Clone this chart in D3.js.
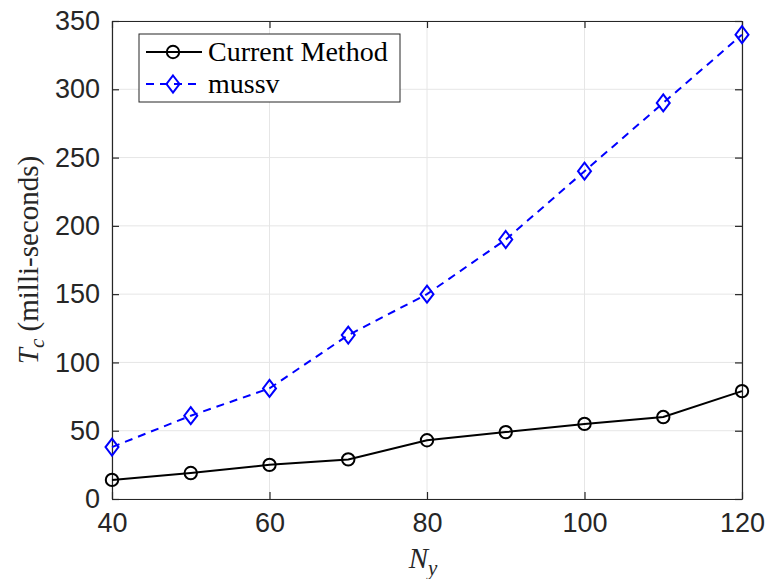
<!DOCTYPE html>
<html>
<head>
<meta charset="utf-8">
<script src="https://cdn.jsdelivr.net/npm/d3@7"></script>
<style>
  html, body { margin: 0; padding: 0; background: #fff; }
  svg { display: block; }
</style>
</head>
<body>
<div id="chart"></div>
<script>
const nyValues = [40, 50, 60, 70, 80, 90, 100, 110, 120];
const currentMethod = [14, 19, 25, 29, 43, 49, 55, 60, 79];
const mussv = [38, 61, 81, 120, 150, 190, 240, 290, 340];
const xTicks = [40, 60, 80, 100, 120];
const yTicks = [0, 50, 100, 150, 200, 250, 300, 350];

const W = 767, H = 579;
const margin = { top: 21, right: 25, bottom: 80, left: 112 };
const w = W - margin.left - margin.right;
const h = H - margin.top - margin.bottom;
const axisColor = '#262626';
const tickFont = "'Liberation Sans', Arial, sans-serif";
const serif = "'Liberation Serif', 'DejaVu Serif', serif";

const svg = d3.select('#chart').append('svg')
  .attr('width', W).attr('height', H);

const g = svg.append('g').attr('transform', `translate(${margin.left},${margin.top})`);

const x = d3.scaleLinear().domain([40, 120]).range([0, w]);
const y = d3.scaleLinear().domain([0, 350]).range([h, 0]);

// grid
g.append('g').selectAll('line').data(xTicks).enter().append('line')
  .attr('x1', d => x(d)).attr('x2', d => x(d)).attr('y1', 0).attr('y2', h)
  .attr('stroke', '#e6e6e6').attr('stroke-width', 1);
g.append('g').selectAll('line').data(yTicks).enter().append('line')
  .attr('x1', 0).attr('x2', w).attr('y1', d => y(d)).attr('y2', d => y(d))
  .attr('stroke', '#e6e6e6').attr('stroke-width', 1);

// axes (ticks inward, box on)
function styleAxis(sel) {
  sel.selectAll('path').attr('stroke', axisColor).attr('stroke-width', 1.2);
  sel.selectAll('line').attr('stroke', axisColor).attr('stroke-width', 1.2);
}
const xAxis = g.append('g').attr('transform', `translate(0,${h})`)
  .call(d3.axisBottom(x).tickValues(xTicks).tickSize(-7).tickSizeOuter(0).tickPadding(14));
styleAxis(xAxis);
xAxis.selectAll('text').attr('fill', axisColor).attr('font-family', tickFont).attr('font-size', '27px');

const yAxis = g.append('g')
  .call(d3.axisLeft(y).tickValues(yTicks).tickSize(-7).tickSizeOuter(0).tickPadding(12));
styleAxis(yAxis);
yAxis.selectAll('text').attr('fill', axisColor).attr('font-family', tickFont).attr('font-size', '27px');

const xTop = g.append('g')
  .call(d3.axisTop(x).tickValues(xTicks).tickSize(-7).tickSizeOuter(0).tickFormat(''));
styleAxis(xTop);
const yRight = g.append('g').attr('transform', `translate(${w},0)`)
  .call(d3.axisRight(y).tickValues(yTicks).tickSize(-7).tickSizeOuter(0).tickFormat(''));
styleAxis(yRight);

// axis labels
const xl = svg.append('text')
  .attr('x', margin.left + w / 2 - 4).attr('y', 568)
  .attr('text-anchor', 'middle').attr('font-family', serif).attr('font-size', '29px')
  .attr('fill', axisColor);
xl.append('tspan').attr('font-style', 'italic').text('N');
xl.append('tspan').attr('font-style', 'italic').attr('font-size', '21px').attr('dy', 7).text('y');

const yl = svg.append('text')
  .attr('transform', `translate(38,${margin.top + h / 2}) rotate(-90)`)
  .attr('text-anchor', 'middle').attr('font-family', serif).attr('font-size', '29px')
  .attr('fill', axisColor);
yl.append('tspan').attr('font-style', 'italic').text('T');
yl.append('tspan').attr('font-style', 'italic').attr('font-size', '21px').attr('dy', 6).text('c');
yl.append('tspan').attr('dy', -6).text('\u00a0(milli-seconds)');

// lines
const series = [
  { name: 'Current Method', values: currentMethod, color: '#000000', dash: null, marker: 'circle' },
  { name: 'mussv', values: mussv, color: '#0000ff', dash: '8 6', marker: 'diamond' }
];

const line = d3.line().x(d => x(d.x)).y(d => y(d.y));
const diamond = 'M0,-8.5L6.5,0L0,8.5L-6.5,0Z';

function drawMarker(sel, s, cx, cy) {
  if (s.marker === 'circle') {
    sel.append('circle').attr('cx', cx).attr('cy', cy).attr('r', 6.2)
      .attr('fill', 'none').attr('stroke', s.color).attr('stroke-width', 2);
  } else {
    sel.append('path').attr('d', diamond).attr('transform', `translate(${cx},${cy})`)
      .attr('fill', 'none').attr('stroke', s.color).attr('stroke-width', 2);
  }
}

series.forEach(s => {
  const pts = nyValues.map((n, i) => ({ x: n, y: s.values[i] }));
  g.append('path').datum(pts)
    .attr('fill', 'none').attr('stroke', s.color).attr('stroke-width', 2)
    .attr('stroke-dasharray', s.dash)
    .attr('d', line);
  pts.forEach(p => drawMarker(g, s, x(p.x), y(p.y)));
});

// legend
const leg = svg.append('g').attr('transform', 'translate(139,34)');
leg.append('rect').attr('width', 261).attr('height', 68)
  .attr('fill', '#fff').attr('stroke', axisColor).attr('stroke-width', 1);
series.forEach((s, i) => {
  const cy = 18 + i * 32;
  leg.append('line').attr('x1', 7).attr('x2', 63).attr('y1', cy).attr('y2', cy)
    .attr('stroke', s.color).attr('stroke-width', 2).attr('stroke-dasharray', s.dash);
  drawMarker(leg, s, 34, cy);
  leg.append('text').attr('x', 69).attr('y', cy + 9)
    .attr('font-family', serif).attr('font-size', '28px').attr('fill', '#000')
    .text(s.name);
});
</script>
</body>
</html>
